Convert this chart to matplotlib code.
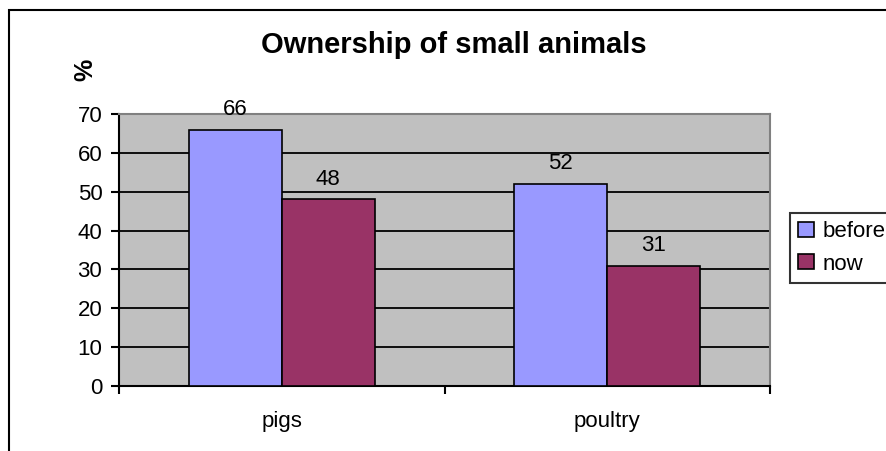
import matplotlib
matplotlib.use("Agg")
import matplotlib.pyplot as plt
from matplotlib.patches import Rectangle, Patch
import numpy as np

plt.rcParams['font.family'] = ['Liberation Sans', 'DejaVu Sans']

categories = ["pigs", "poultry"]
series_names = ["before", "now"]
before = [66, 52]
now = [48, 31]
y_ticks = [0, 10, 20, 30, 40, 50, 60, 70]

colors = ["#9999FF", "#993366"]
FS = 16

W, H = 886, 451
fig = plt.figure(figsize=(W / 100, H / 100), dpi=100)

# outer chart frame
fig.add_artist(Rectangle((9 / W, -0.1), 1.2, 1 - 10 / H + 0.1,
                         transform=fig.transFigure, fill=False,
                         edgecolor="black", linewidth=1.5))

ax = fig.add_axes([119 / W, 1 - 386 / H, (770 - 119) / W, (386 - 114) / H])
ax.set_facecolor("#C0C0C0")

x = np.arange(len(categories))
bw = 1 / 3.5
for i, (vals, name) in enumerate(zip([before, now], series_names)):
    pos = x - bw + i * bw + bw / 2
    bars = ax.bar(pos, vals, width=bw, color=colors[i], edgecolor="black",
                  linewidth=1.2, label=name, zorder=3)
    for b, v in zip(bars, vals):
        ax.annotate(str(v), (b.get_x() + b.get_width() / 2, v),
                    xytext=(0, 7), textcoords="offset points",
                    ha="center", va="bottom", fontsize=FS, zorder=4)

ax.set_xlim(-0.5, 1.5)
ax.set_ylim(0, 70)
ax.set_yticks(y_ticks)
ax.set_yticklabels([str(t) for t in y_ticks], fontsize=FS)
ax.yaxis.grid(True, color="black", linewidth=1.3, zorder=1)
ax.set_axisbelow(True)

ax.set_xticks([-0.5, 0.5, 1.5])
ax.set_xticklabels([])
ax.set_xticks(x, minor=True)
ax.set_xticklabels(categories, minor=True, fontsize=FS)
ax.tick_params(axis="x", which="minor", length=0, pad=18)
ax.tick_params(axis="x", which="major", direction="out", length=6, width=1.5)
ax.tick_params(axis="y", direction="out", length=6, width=1.5, pad=6)

for side in ["top", "right"]:
    ax.spines[side].set_color("#808080")
    ax.spines[side].set_linewidth(1.5)
for side in ["left", "bottom"]:
    ax.spines[side].set_color("black")
    ax.spines[side].set_linewidth(1.5)

fig.text(454 / W, 1 - 45 / H, "Ownership of small animals", ha="center",
         va="center", fontsize=21, fontweight="bold")
fig.text(85 / W, 1 - 70 / H, "%", ha="center", va="center", rotation=90,
         fontsize=18, fontweight="bold")

handles = [Patch(facecolor=colors[i], edgecolor="black", linewidth=1.2)
           for i in range(2)]
leg = fig.legend(handles, series_names, loc="upper left",
                 bbox_to_anchor=(790 / W, 1 - 213 / H), fontsize=FS,
                 frameon=True, fancybox=False, handlelength=0.68,
                 handleheight=0.68, handletextpad=0.4, borderpad=0.38,
                 labelspacing=0.5, borderaxespad=0)
leg.get_frame().set_edgecolor("black")
leg.get_frame().set_linewidth(1.5)

fig.savefig("out.png", dpi=100)
